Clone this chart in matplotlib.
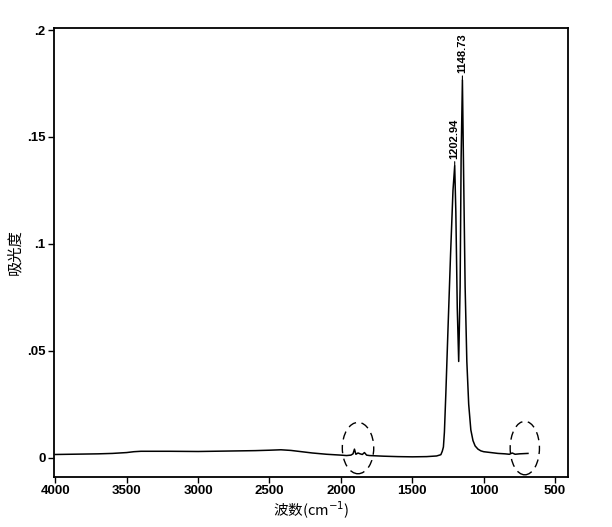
import matplotlib
matplotlib.use("Agg")
import matplotlib.pyplot as plt
from matplotlib.patches import Ellipse

plt.rcParams['font.family'] = ['Liberation Sans', 'Noto Sans CJK SC', 'DejaVu Sans']

# Spectrum (wavenumber cm-1, absorbance)
wavenumber = [4000, 3900, 3800, 3700, 3600, 3500, 3450, 3400, 3200, 3000, 2800,
              2600, 2500, 2420, 2350, 2300, 2200, 2100, 2000, 1960, 1930,
              1915, 1905, 1895, 1880, 1865, 1850, 1835, 1820, 1800, 1700,
              1600, 1500, 1400, 1330, 1300, 1290, 1282, 1275, 1265, 1250,
              1232, 1215, 1203, 1195, 1185, 1175, 1165, 1158, 1149, 1140,
              1130, 1118, 1105, 1090, 1075, 1060, 1040, 1020, 1000, 950,
              900, 850, 820, 800, 780, 750, 720, 690]
absorbance = [0.0015, 0.0016, 0.0017, 0.0018, 0.0020, 0.0024, 0.0028, 0.0030, 0.0030,
              0.0029, 0.0031, 0.0033, 0.0035, 0.0037, 0.0034, 0.0030, 0.0022, 0.0016,
              0.0012, 0.0010, 0.0012, 0.0018, 0.0040, 0.0016, 0.0022, 0.0018,
              0.0015, 0.0024, 0.0012, 0.0010, 0.0007, 0.0005, 0.0004, 0.0005,
              0.0008, 0.0014, 0.0030, 0.0050, 0.0120, 0.0300, 0.0600, 0.0950,
              0.1250, 0.1365, 0.1150, 0.0700, 0.0450, 0.0800, 0.1400, 0.1766,
              0.1300, 0.0800, 0.0450, 0.0250, 0.0130, 0.0080, 0.0055, 0.0040,
              0.0032, 0.0028, 0.0024, 0.0020, 0.0018, 0.0016, 0.0022, 0.0016,
              0.0018, 0.0019, 0.0020]

peak_labels = ["1202.94", "1148.73"]
peak_x = [1203, 1149]
peak_y = [0.1365, 0.1766]

x_ticks = [4000, 3500, 3000, 2500, 2000, 1500, 1000, 500]
y_ticks = [0, 0.05, 0.1, 0.15, 0.2]
y_tick_labels = ["0", ".05", ".1", ".15", ".2"]

fig = plt.figure(figsize=(6.12, 5.27), dpi=100)
ax = fig.add_axes([0.088, 0.095, 0.84, 0.852])

ax.plot(wavenumber, absorbance, color='black', lw=1.1)

ax.set_xlim(4010, 410)
ax.set_ylim(-0.009, 0.201)
ax.set_xticks(x_ticks)
ax.set_xticklabels([str(t) for t in x_ticks], fontsize=9.5, fontweight='bold')
ax.set_yticks(y_ticks)
ax.set_yticklabels(y_tick_labels, fontsize=9.5, fontweight='bold')
ax.tick_params(direction='out', length=4, width=1.0, pad=2)
for s in ax.spines.values():
    s.set_linewidth(1.3)

for lab, px, py in zip(peak_labels, peak_x, peak_y):
    ax.annotate(lab, xy=(px, py), xytext=(0, 5), textcoords='offset points',
                rotation=90, ha='center', va='bottom', fontsize=8, fontweight='bold',
                arrowprops=dict(arrowstyle='-', lw=0.8, color='black', shrinkA=0, shrinkB=0))

# dashed ellipses marking regions
ax.add_patch(Ellipse((1880, 0.0045), 220, 0.024, fill=False, ls=(0, (6, 4)), lw=1.0, color='black'))
ax.add_patch(Ellipse((712, 0.0045), 205, 0.025, fill=False, ls=(0, (6, 4)), lw=1.0, color='black'))

ax.set_ylabel("吸光度", fontsize=11, family=['Noto Sans CJK SC', 'DejaVu Sans'], labelpad=3)
ax.set_xlabel("波数(cm$^{-1}$)", fontsize=10.5, family=['Noto Sans CJK SC', 'DejaVu Sans'], labelpad=2)

fig.savefig("out.png", dpi=100)
